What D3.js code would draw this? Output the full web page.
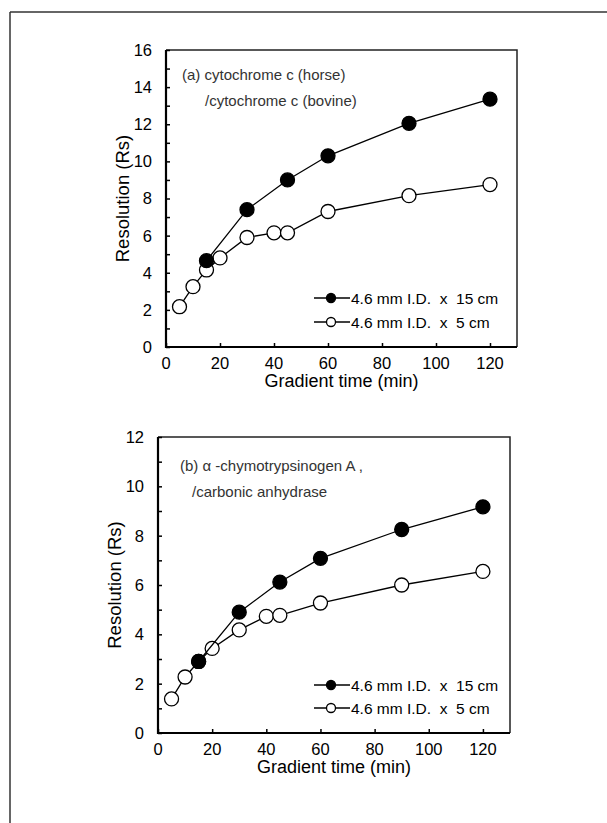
<!DOCTYPE html>
<html lang="en">
<head>
    <meta charset="UTF-8">
    <title>resolution vs gradient time</title>
    <style>
        body { margin: 0; background: #fff; }
        text { font-family: "Liberation Sans", Arial, sans-serif; }
    </style>
</head>
<body>
<script src="https://cdn.jsdelivr.net/npm/d3@7"></script>
<script>

// panel (a): cytochrome c (horse) / cytochrome c (bovine)
const a_long_time = [15, 30, 45, 60, 90, 120];
const a_long_rs = [4.65, 7.4, 9.0, 10.3, 12.05, 13.35];
const a_short_time = [5, 10, 15, 20, 30, 40, 45, 60, 90, 120];
const a_short_rs = [2.17, 3.25, 4.15, 4.8, 5.9, 6.15, 6.15, 7.3, 8.15, 8.75];

// panel (b): alpha-chymotrypsinogen A / carbonic anhydrase
const b_long_time = [15, 30, 45, 60, 90, 120];
const b_long_rs = [2.9, 4.9, 6.12, 7.08, 8.25, 9.17];
const b_short_time = [5, 10, 15, 20, 30, 40, 45, 60, 90, 120];
const b_short_rs = [1.38, 2.27, 2.9, 3.43, 4.18, 4.73, 4.77, 5.27, 6.0, 6.55];

const x_ticks = [0, 20, 40, 60, 80, 100, 120];
const legend_labels = ['4.6 mm I.D.  x  15 cm', '4.6 mm I.D.  x  5 cm'];

const width = 607, height = 823;

let svg = d3.select('body')
    .append('svg')
    .attr('width', width)
    .attr('height', height);

// outer frame (top and left edges are the only ones visible)
svg.append('line')
    .attr('x1', 10).attr('y1', 12).attr('x2', width).attr('y2', 12)
    .style('stroke', '#333').style('stroke-width', 1.5);
svg.append('line')
    .attr('x1', 10).attr('y1', 12).attr('x2', 10).attr('y2', height)
    .style('stroke', '#333').style('stroke-width', 1.5);

function zip(xs, ys){
    return xs.map(function(x, i){ return {x: x, y: ys[i]}; });
}

function draw_panel(p){
    let x = d3.scaleLinear().domain([0, 130]).range([p.left, p.right]);
    let y = d3.scaleLinear().domain([0, p.ymax]).range([p.bottom, p.top]);

    let g = svg.append('g');

    // top / right frame
    g.append('path')
        .attr('d', 'M' + p.left + ',' + p.top + 'H' + p.right + 'V' + p.bottom)
        .style('fill', 'none').style('stroke', '#222').style('stroke-width', 1.5);

    // y axis: ticks every 1 inside, labels every 2
    let yAxis = d3.axisRight(y)
        .tickValues(d3.range(0, p.ymax + 1, 1))
        .tickSize(4)
        .tickFormat('');
    g.append('g')
        .attr('transform', 'translate(' + p.left + ',0)')
        .call(yAxis)
        .call(function(s){
            s.select('.domain').remove();
            s.selectAll('line').style('stroke', '#000').style('stroke-width', 1.5);
        });
    g.selectAll('.ylab')
        .data(d3.range(0, p.ymax + 1, 2))
        .enter()
        .append('text')
        .attr('class', 'ylab')
        .attr('x', p.left - 14)
        .attr('y', function(d){ return y(d); })
        .attr('dy', '0.36em')
        .attr('text-anchor', 'end')
        .style('font-size', '16.5px')
        .text(function(d){ return d; });

    // x axis: ticks inside pointing up
    let xAxis = d3.axisTop(x)
        .tickValues(x_ticks)
        .tickSize(4)
        .tickFormat('');
    g.append('g')
        .attr('transform', 'translate(0,' + p.bottom + ')')
        .call(xAxis)
        .call(function(s){
            s.select('.domain').remove();
            s.selectAll('line').style('stroke', '#000').style('stroke-width', 1.5);
        });
    g.selectAll('.xlab')
        .data(x_ticks)
        .enter()
        .append('text')
        .attr('class', 'xlab')
        .attr('x', function(d){ return x(d); })
        .attr('y', p.bottom + 22)
        .attr('text-anchor', 'middle')
        .style('font-size', '16.5px')
        .text(function(d){ return d; });

    // left and bottom axis lines
    g.append('path')
        .attr('d', 'M' + p.left + ',' + p.top + 'V' + p.bottom + 'H' + p.right)
        .style('fill', 'none').style('stroke', '#000').style('stroke-width', 2.2);

    // axis titles
    g.append('text')
        .attr('transform', 'translate(' + p.ytitle_x + ',' + ((p.top + p.bottom) / 2) + ') rotate(-90)')
        .attr('text-anchor', 'middle')
        .attr('dy', '0.36em')
        .style('font-size', '18.5px')
        .text('Resolution (Rs)');
    g.append('text')
        .attr('x', (p.left + p.right) / 2)
        .attr('y', p.bottom + 40)
        .attr('text-anchor', 'middle')
        .style('font-size', '18px')
        .text('Gradient time (min)');

    // annotation
    p.note.forEach(function(n){
        g.append('text')
            .attr('x', n[0]).attr('y', n[1])
            .attr('dy', '0.36em')
            .style('font-size', '15px')
            .style('fill', '#333')
            .text(n[2]);
    });

    let line = d3.line()
        .x(function(d){ return x(d.x); })
        .y(function(d){ return y(d.y); });

    // open series first, filled on top
    let series = [
        {data: zip(p.short_time, p.short_rs), fill: '#fff'},
        {data: zip(p.long_time, p.long_rs), fill: '#000'}
    ];
    series.forEach(function(s){
        g.append('path')
            .datum(s.data)
            .attr('d', line)
            .style('fill', 'none')
            .style('stroke', '#000')
            .style('stroke-width', 1.3);
        g.selectAll(null)
            .data(s.data)
            .enter()
            .append('circle')
            .attr('cx', function(d){ return x(d.x); })
            .attr('cy', function(d){ return y(d.y); })
            .attr('r', 7)
            .style('fill', s.fill)
            .style('stroke', '#000')
            .style('stroke-width', 1.3);
    });

    // legend
    let fills = ['#000', '#fff'];
    legend_labels.forEach(function(lab, i){
        let ly = p.legend_y[i];
        g.append('line')
            .attr('x1', 314).attr('x2', 350)
            .attr('y1', ly).attr('y2', ly)
            .style('stroke', '#000').style('stroke-width', 1.3);
        g.append('circle')
            .attr('cx', 331).attr('cy', ly).attr('r', 4.5)
            .style('fill', fills[i]).style('stroke', '#000').style('stroke-width', 1.3);
        g.append('text')
            .attr('x', 351).attr('y', ly)
            .attr('dy', '0.36em')
            .style('font-size', '15.5px')
            .style('white-space', 'pre')
            .text(lab);
    });
}

draw_panel({
    left: 166, right: 517, top: 50, bottom: 347, ymax: 16,
    ytitle_x: 122,
    long_time: a_long_time, long_rs: a_long_rs,
    short_time: a_short_time, short_rs: a_short_rs,
    note: [[182, 75, '(a) cytochrome c (horse)'], [205, 101, '/cytochrome c (bovine)']],
    legend_y: [298, 322]
});

draw_panel({
    left: 158, right: 510, top: 437, bottom: 733, ymax: 12,
    ytitle_x: 114,
    long_time: b_long_time, long_rs: b_long_rs,
    short_time: b_short_time, short_rs: b_short_rs,
    note: [[180, 466, '(b) \u03b1 -chymotrypsinogen A ,'], [192, 492, '/carbonic anhydrase']],
    legend_y: [685, 708]
});

</script>
</body>
</html>
